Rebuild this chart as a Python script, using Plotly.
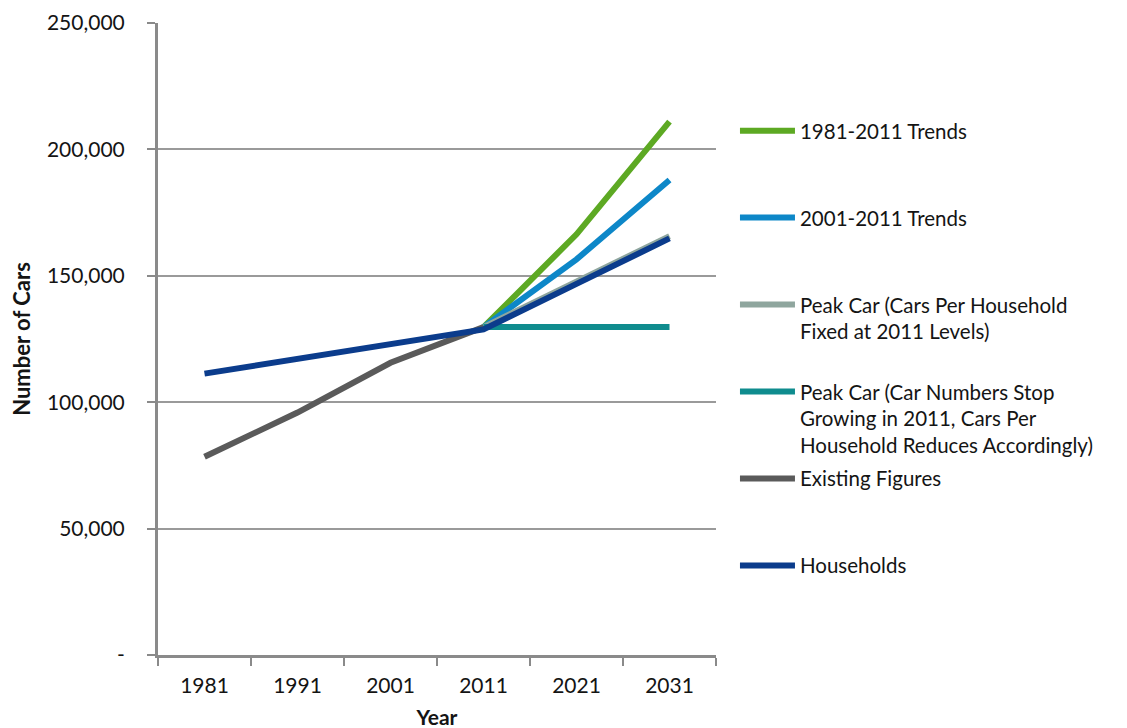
import plotly.graph_objects as go

years = ["1981", "1991", "2001", "2011", "2021", "2031"]

trend_1981_2011 = [None, None, None, 129700, 166400, 211000]
trend_2001_2011 = [None, None, None, 129700, 156500, 187900]
peak_fixed = [None, None, None, 129700, 148000, 165700]
peak_stop = [None, None, None, 129700, 129700, 129700]
existing = [78400, 95900, 115600, 129700, None, None]
households = [111300, 117200, 123000, 128800, 146800, 164800]

series_names = [
    "1981-2011 Trends",
    "2001-2011 Trends",
    "Peak Car (Cars Per Household<br>Fixed at 2011 Levels)",
    "Peak Car (Car Numbers Stop<br>Growing in 2011, Cars Per<br>Household Reduces Accordingly)",
    "Existing Figures",
    "Households",
]
series_values = [trend_1981_2011, trend_2001_2011, peak_fixed, peak_stop, existing, households]
series_colors = ["#5DA923", "#0D87C8", "#8FA69E", "#0F8C8E", "#5A5A5A", "#0B3C8C"]

ytick_vals = [0, 50000, 100000, 150000, 200000, 250000]
ytick_text = ["-", "50,000", "100,000", "150,000", "200,000", "250,000"]

FONT = "Lato, Open Sans, sans-serif"
TXT = "#141414"

fig = go.Figure()
for i, (name, vals, col) in enumerate(zip(series_names, series_values, series_colors)):
    nlines = name.count("<br>") + 1
    pad = "<br> " * (3 - nlines)
    fig.add_trace(go.Scatter(
        x=years, y=vals, mode="lines", name=name + pad, legendgroup=f"g{i}",
        line=dict(color=col, width=6), connectgaps=False,
    ))

fig.update_layout(
    width=1127, height=728,
    margin=dict(l=150, r=419, t=15, b=81, autoexpand=False),
    paper_bgcolor="white", plot_bgcolor="white",
    font=dict(family=FONT, size=21, color=TXT),
    showlegend=True,
    legend=dict(
        x=1.034, y=0.861, xanchor="left", yanchor="top",
        valign="top", tracegroupgap=4, itemwidth=55,
        font=dict(family=FONT, size=20.5, color=TXT),
        bgcolor="rgba(0,0,0,0)",
    ),
    xaxis=dict(
        type="category", range=[-0.5, 5.5], automargin=False,
        showline=True, linecolor="#8A8A8A", linewidth=3,
        ticks="outside", tickson="boundaries", ticklen=8, tickwidth=2, tickcolor="#8A8A8A",
        showgrid=False, zeroline=False,
        ticklabelstandoff=10,
        tickfont=dict(family=FONT, size=21, color=TXT),
        title=dict(text="<b>Year</b>", font=dict(family=FONT, size=21, color=TXT), standoff=15),
    ),
    yaxis=dict(
        range=[0, 250000], tickvals=ytick_vals, ticktext=ytick_text, automargin=False,
        showline=True, linecolor="#8A8A8A", linewidth=3,
        ticks="outside", ticklen=8, tickwidth=2, tickcolor="#8A8A8A",
        showgrid=True, gridcolor="#9A9A9A", gridwidth=2,
        zeroline=False,
        ticklabelstandoff=18,
        tickfont=dict(family=FONT, size=21, color=TXT),
        title=dict(text="<b>Number of Cars</b>", font=dict(family=FONT, size=22, color=TXT), standoff=22),
    ),
)

fig.write_html("out.html")
